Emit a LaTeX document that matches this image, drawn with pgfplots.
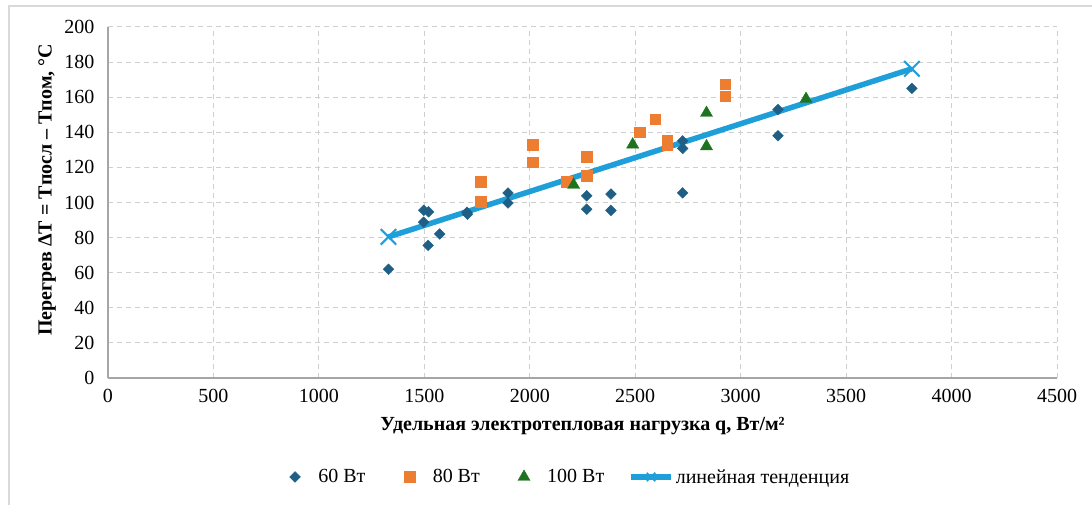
\documentclass[border=0pt]{standalone}
\usepackage{pgfplots}
\pgfplotsset{compat=1.18}
\usepackage{fontspec}
\setmainfont{Liberation Serif}
\definecolor{c60}{HTML}{1F5F86}
\definecolor{c80}{HTML}{ED7D31}
\definecolor{c100}{HTML}{1E7320}
\definecolor{ctr}{HTML}{1E9FD9}
\definecolor{gridc}{HTML}{CFCFCF}
\definecolor{axc}{HTML}{A6A6A6}
\definecolor{framec}{HTML}{D9D9D9}
\newcommand{\fs}{\fontsize{20bp}{24bp}\selectfont}
\pgfplotsset{
  mklegend/.style={legend image code/.code={\draw[##1] plot coordinates {(20bp,0bp)}; \path (0bp,0bp) (41bp,0bp);}},
  trendlegend/.style={legend image code/.code={\draw[##1, mark repeat=2, mark phase=2] plot coordinates {(0bp,0bp) (20bp,0bp) (40bp,0bp)};}},
}
\begin{document}
\begin{tikzpicture}
\path[use as bounding box] (-108bp,-127bp) rectangle (984bp,378bp);
\draw[framec, line width=2bp] (-99bp,-140bp) -- (-99bp,372bp) -- (1000bp,372bp);
\begin{axis}[
  at={(0,0)}, anchor=south west, scale only axis,
  width=949bp, height=351bp,
  xmin=0, xmax=4500, ymin=0, ymax=200,
  xtick distance=500, ytick distance=20,
  grid=major,
  major grid style={gridc, dash pattern=on 5bp off 4bp, line width=1bp},
  axis x line*=bottom, axis y line*=left,
  axis line style={axc, line width=1.3bp, -},
  major tick length=0pt,
  /pgf/number format/.cd, 1000 sep={}, assume math mode=true, /pgfplots/.cd,
  tick label style={font=\fs},
  xticklabel style={yshift=-8bp},
  yticklabel style={xshift=-10bp},
  xlabel={Удельная электротепловая нагрузка q, Вт/м²},
  ylabel={Перегрев ΔT = Tпосл – Tпом, °C},
  label style={font=\fs\bfseries},
  xlabel style={at={(axis description cs:0.5,0)}, anchor=center, yshift=-48bp},
  ylabel style={at={(axis description cs:0,0.536)}, anchor=center, yshift=61bp},
  legend style={at={(axis description cs:0.4795,-0.282)}, anchor=center, draw=none, fill=none, font=\fs, legend columns=4,
    /tikz/every even column/.append style={column sep=22bp}},
  legend cell align=left,
]
\addplot[ctr, line width=5.5bp, mark=x, mark size=11bp, mark options={line width=2bp}, forget plot] coordinates {(1330,80.4) (3812,176.2)};
\addplot[only marks, mklegend, mark=square*, mark size=3.8bp, mark options={rotate=45, c60, fill=c60}] coordinates {
(1330,62) (1497,95.6) (1520,94.7) (1497,88.8) (1518,75.6) (1573,82.1) (1702,94.4) (1705,93.3)
(1897,105.4) (1897,99.7) (2270,103.8) (2270,96.2) (2385,104.8) (2385,95.5)
(2725,135.1) (2725,130.8) (2725,105.5) (3177,153) (3177,138) (3812,165)};
\addlegendentry{60 Вт}
\addplot[only marks, mklegend, mark=square*, mark size=5.3bp, mark options={c80, fill=c80}] coordinates {
(1768,112) (1768,100.5) (2015,133) (2015,123) (2175,112) (2270,126) (2270,115.3)
(2521,140) (2594,147.5) (2652,135.5) (2652,133) (2927,167.5) (2927,160.5)};
\addlegendentry{80 Вт}
\addplot[only marks, mklegend, mark=triangle*, mark size=7bp, mark options={c100, fill=c100}] coordinates {
(2208,110) (2488,133) (2838,151) (2838,132) (3310,159)};
\addlegendentry{100 Вт}
\addlegendimage{ctr, line width=5.5bp, mark=x, mark size=6bp, mark options={line width=1.5bp}, trendlegend}
\addlegendentry{линейная тенденция}
\end{axis}
\end{tikzpicture}
\end{document}
